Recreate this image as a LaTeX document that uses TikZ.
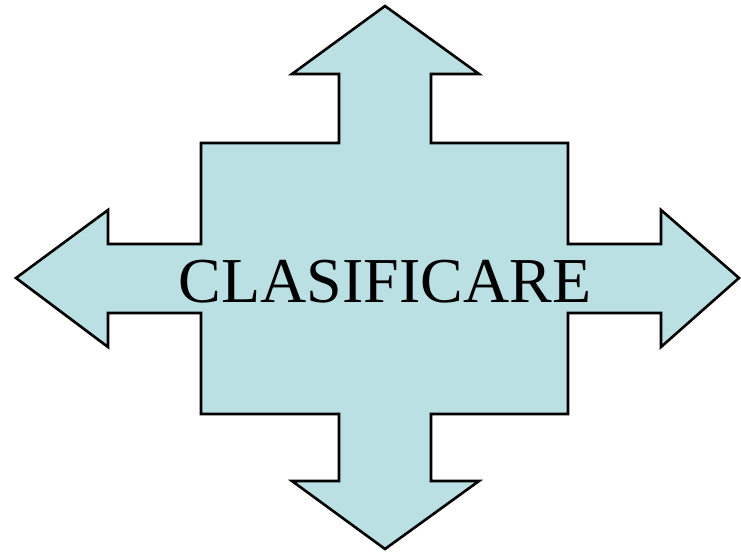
\documentclass[tikz,border=0pt]{standalone}
\usepackage{fontspec}
\setmainfont{Liberation Serif}
\definecolor{arrowfill}{RGB}{187,224,227}
\tikzset{quadarrow/.style={draw=black, line width=2.6pt, fill=arrowfill, line join=miter}}
\begin{document}
\begin{tikzpicture}[x=1pt,y=-1pt]
\useasboundingbox (0,0) rectangle (741,553);
\draw[quadarrow]
  (385,6) -- (479,74) -- (431,74) -- (431,143) -- (568,143) -- (568,244)
  -- (661,244) -- (661,210) -- (739,278) -- (661,347) -- (661,313) -- (568,313)
  -- (568,414) -- (431,414) -- (431,481) -- (479,481) -- (385,549) -- (292,481)
  -- (339,481) -- (339,414) -- (201,414) -- (201,313) -- (108,313) -- (108,347)
  -- (16,278) -- (108,210) -- (108,244) -- (201,244) -- (201,143) -- (339,143)
  -- (339,74) -- (292,74) -- cycle;
\node[anchor=base, inner sep=0pt, font=\fontsize{64}{64}\selectfont] (title) at (385,302) {CLASIFICARE};
\end{tikzpicture}
\end{document}
